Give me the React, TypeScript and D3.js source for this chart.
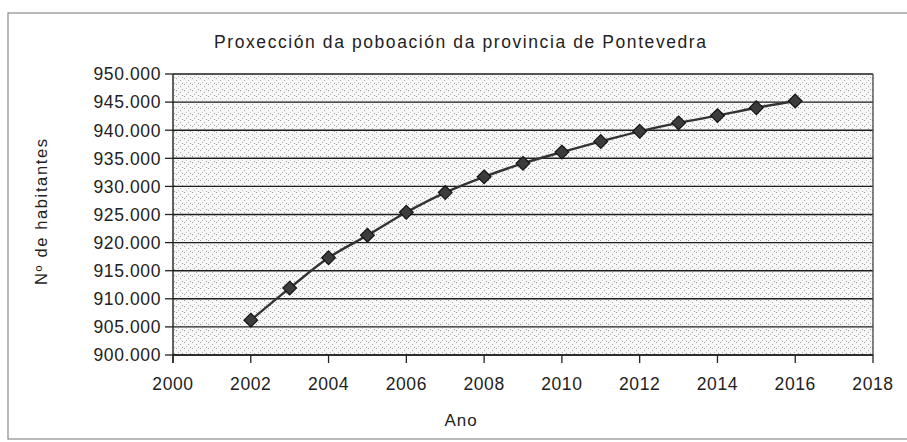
import React from "react";
import * as d3 from "d3";

const title = "Proxección da poboación da provincia de Pontevedra";
const xAxisTitle = "Ano";
const yAxisTitle = "Nº de habitantes";

const years = [2002, 2003, 2004, 2005, 2006, 2007, 2008, 2009, 2010, 2011, 2012, 2013, 2014, 2015, 2016];
const population = [906200, 911900, 917300, 921300, 925400, 928900, 931700, 934100, 936100, 938000, 939800, 941300, 942600, 944000, 945200];

const xTicks = [2000, 2002, 2004, 2006, 2008, 2010, 2012, 2014, 2016, 2018];
const yTicks = [900000, 905000, 910000, 915000, 920000, 925000, 930000, 935000, 940000, 945000, 950000];

const W = 907;
const H = 442;
const plot = { left: 173, right: 873, top: 74, bottom: 355 };

const FONT = "'Liberation Sans', Arial, Helvetica, sans-serif";

const locale = d3.formatLocale({ decimal: ",", thousands: ".", grouping: [3], currency: ["", "€"] });
const fmt = locale.format(",d");

export default function App() {
  const x = d3.scaleLinear().domain([2000, 2018]).range([plot.left, plot.right]);
  const y = d3.scaleLinear().domain([900000, 950000]).range([plot.bottom, plot.top]);

  const pts: [number, number][] = years.map((yr, i) => [x(yr), y(population[i])]);
  const line = d3.line<[number, number]>().curve(d3.curveCatmullRom.alpha(0.5))(pts) || "";

  const diamond = d3.symbol().type(d3.symbolDiamond2).size(120)() || "";

  return (
    <svg
      width={W}
      height={H}
      viewBox={`0 0 ${W} ${H}`}
      style={{ position: "fixed", left: 0, top: 0, background: "#fff" }}
      fontFamily={FONT}
    >
      <defs>
        <pattern id="stip" width="8" height="6" patternUnits="userSpaceOnUse">
          <rect width="8" height="6" fill="#f7f7f7" />
          <rect x="0" y="0" width="1" height="1" fill="#9a9a9a" />
          <rect x="4" y="2" width="1" height="1" fill="#a8a8a8" />
          <rect x="6" y="5" width="1" height="1" fill="#a0a0a0" />
          <rect x="2" y="4" width="1" height="1" fill="#bcbcbc" />
        </pattern>
      </defs>

      {/* outer frame */}
      <rect x={8} y={13} width={920} height={426} fill="none" stroke="#8a8a8a" strokeWidth={1.2} />

      {/* title */}
      <text x={460} y={48} textAnchor="middle" fontSize={17.5} fill="#222" textLength={492} lengthAdjust="spacing">
        {title}
      </text>

      {/* plot background */}
      <rect
        x={plot.left}
        y={plot.top}
        width={plot.right - plot.left}
        height={plot.bottom - plot.top}
        fill="url(#stip)"
      />

      {/* gridlines */}
      {yTicks.map((t) => (
        <line key={"g" + t} x1={plot.left} x2={plot.right} y1={y(t)} y2={y(t)} stroke="#1e1e1e" strokeWidth={1.4} />
      ))}

      {/* plot border */}
      <line x1={plot.right} x2={plot.right} y1={plot.top} y2={plot.bottom} stroke="#444" strokeWidth={1.3} />
      <line x1={plot.left} x2={plot.left} y1={plot.top} y2={plot.bottom + 8} stroke="#222" strokeWidth={1.4} />
      <line x1={plot.left} x2={plot.right} y1={plot.bottom} y2={plot.bottom} stroke="#222" strokeWidth={1.4} />

      {/* y ticks and labels */}
      {yTicks.map((t) => (
        <g key={"y" + t}>
          <line x1={plot.left - 8} x2={plot.left} y1={y(t)} y2={y(t)} stroke="#222" strokeWidth={1.3} />
          <text
            x={161}
            y={y(t)}
            dy="0.36em"
            textAnchor="end"
            fontSize={17.5}
            letterSpacing={0.6}
            fill="#222"
          >
            {fmt(t)}
          </text>
        </g>
      ))}

      {/* x ticks and labels */}
      {xTicks.map((t) => (
        <g key={"x" + t}>
          <line x1={x(t)} x2={x(t)} y1={plot.bottom} y2={plot.bottom + 8} stroke="#222" strokeWidth={1.3} />
          <text x={x(t)} y={390} textAnchor="middle" fontSize={17.5} letterSpacing={0.6} fill="#222">
            {t}
          </text>
        </g>
      ))}

      {/* axis titles */}
      <text x={461} y={426} textAnchor="middle" fontSize={17} letterSpacing={1} fill="#222">
        {xAxisTitle}
      </text>
      <text
        transform={`translate(47,212) rotate(-90)`}
        textAnchor="middle"
        fontSize={16.5}
        fill="#222"
        textLength={146}
        lengthAdjust="spacing"
      >
        {yAxisTitle}
      </text>

      {/* series line */}
      <path d={line} fill="none" stroke="#333" strokeWidth={2.4} />

      {/* markers */}
      {pts.map(([px, py], i) => (
        <path
          key={"m" + years[i]}
          d={diamond}
          transform={`translate(${px},${py})`}
          fill="#3c3c3c"
          stroke="#151515"
          strokeWidth={1.2}
        />
      ))}
    </svg>
  );
}
